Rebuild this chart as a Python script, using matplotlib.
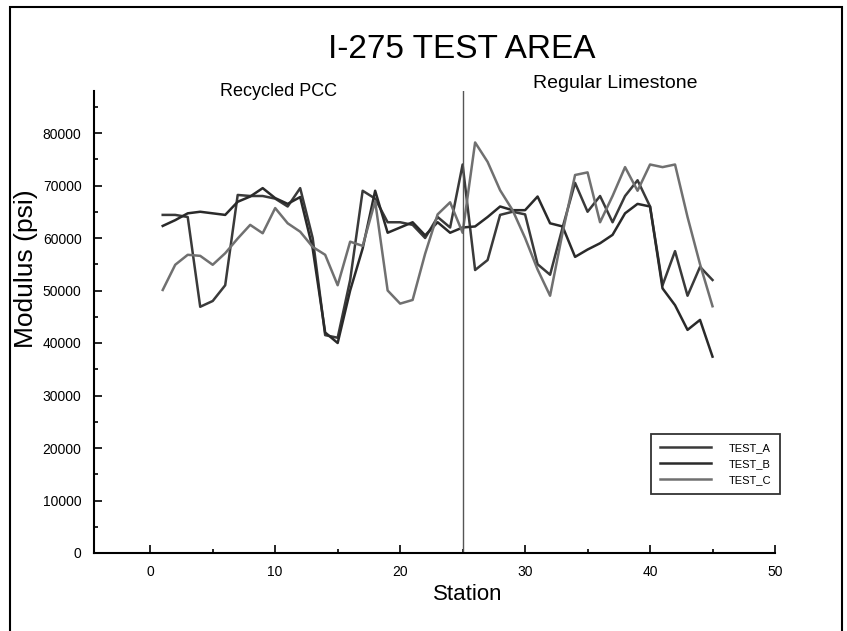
import matplotlib.pyplot as plt
from matplotlib.patches import Rectangle
from matplotlib.ticker import MultipleLocator

# FWD backcalculated modulus along the I-275 test section
stations = list(range(1, 46))

test_a = [64400, 64400, 64000, 46900, 48000, 51000, 68200, 68000, 68000, 67500,
          66000, 69500, 60000, 41500, 41000, 52000, 69000, 67500, 63000, 63000,
          62500, 60000, 64000, 62000, 74000, 53900, 55800, 64400, 65000, 64500,
          55000, 53000, 62000, 70500, 65000, 68000, 63000, 68000, 71000, 66000,
          51000, 57500, 49000, 54500, 52000]

test_b = [62300, 63400, 64700, 65000, 64700, 64400, 66900, 67900, 69500, 67600,
          66500, 67800, 58000, 42000, 40000, 50000, 58000, 69000, 61000, 62000,
          63000, 60500, 63000, 61000, 62000, 62200, 64000, 66000, 65300, 65300,
          67900, 62800, 62200, 56400, 57800, 59000, 60600, 64700, 66500, 66000,
          50400, 47200, 42500, 44400, 37400]

test_c = [50100, 54900, 56800, 56600, 54900, 57100, 59900, 62500, 60900, 65700,
          62800, 61200, 58300, 56800, 51000, 59300, 58500, 67000, 50000, 47500,
          48200, 57000, 64500, 66800, 61000, 78200, 74500, 69100, 65300, 60000,
          54000, 49000, 61000, 72000, 72500, 63000, 68000, 73500, 69000, 74000,
          73500, 74000, 64000, 55000, 47000]

series_names = ["TEST_A", "TEST_B", "TEST_C"]
section_split = 25

plt.rcParams['font.family'] = ['Liberation Sans', 'DejaVu Sans']

W, H = 847, 631
fig = plt.figure(figsize=(W / 100, H / 100), dpi=100)

# page frame around the whole chart
fig.patches.append(Rectangle((10 / W, -0.05), 832 / W, (H - 7) / H + 0.05,
                             transform=fig.transFigure, fill=False,
                             edgecolor='black', linewidth=1.5))

ax = fig.add_axes([94 / W, (H - 553) / H, (775 - 94) / W, (553 - 91) / H])

ax.plot(stations, test_a, color='#3a3a3a', linewidth=1.8, label=series_names[0])
ax.plot(stations, test_b, color='#2a2a2a', linewidth=1.8, label=series_names[1])
ax.plot(stations, test_c, color='#707070', linewidth=1.8, label=series_names[2])

ax.axvline(section_split, color='#555555', linewidth=1.0)

ax.set_xlim(-4.5, 50)
ax.set_ylim(0, 88000)
ax.xaxis.set_major_locator(MultipleLocator(10))
ax.xaxis.set_minor_locator(MultipleLocator(5))
ax.yaxis.set_major_locator(MultipleLocator(10000))
ax.yaxis.set_minor_locator(MultipleLocator(5000))
ax.set_yticks(range(0, 80001, 10000))
ax.tick_params(which='both', direction='in', width=1.2)
ax.tick_params(which='major', length=6, labelsize=10, pad=9)
ax.tick_params(which='minor', length=3)

for side in ['top', 'right']:
    ax.spines[side].set_visible(False)
for side in ['left', 'bottom']:
    ax.spines[side].set_linewidth(1.5)

fig.text(462 / W, 1 - 50 / H, "I-275 TEST AREA", ha='center', va='center', fontsize=24)
fig.text(278 / W, 1 - 91 / H, "Recycled PCC", ha='center', va='center', fontsize=13)
fig.text(615 / W, 1 - 83 / H, "Regular Limestone", ha='center', va='center', fontsize=14)
fig.text(26 / W, 1 - 269 / H, "Modulus (psi)", ha='center', va='center',
         rotation=90, fontsize=19)
fig.text(468 / W, 1 - 595 / H, "Station", ha='center', va='center', fontsize=16)

leg = ax.legend(loc='upper left', bbox_to_anchor=(651 / W, 1 - 434 / H),
                bbox_transform=fig.transFigure, fontsize=8, frameon=True,
                fancybox=False, handlelength=4.6, borderpad=0.8,
                labelspacing=0.55, handletextpad=1.6, borderaxespad=0)
leg.get_frame().set_edgecolor('black')
leg.get_frame().set_linewidth(1.3)

fig.savefig('out.png', dpi=100)
